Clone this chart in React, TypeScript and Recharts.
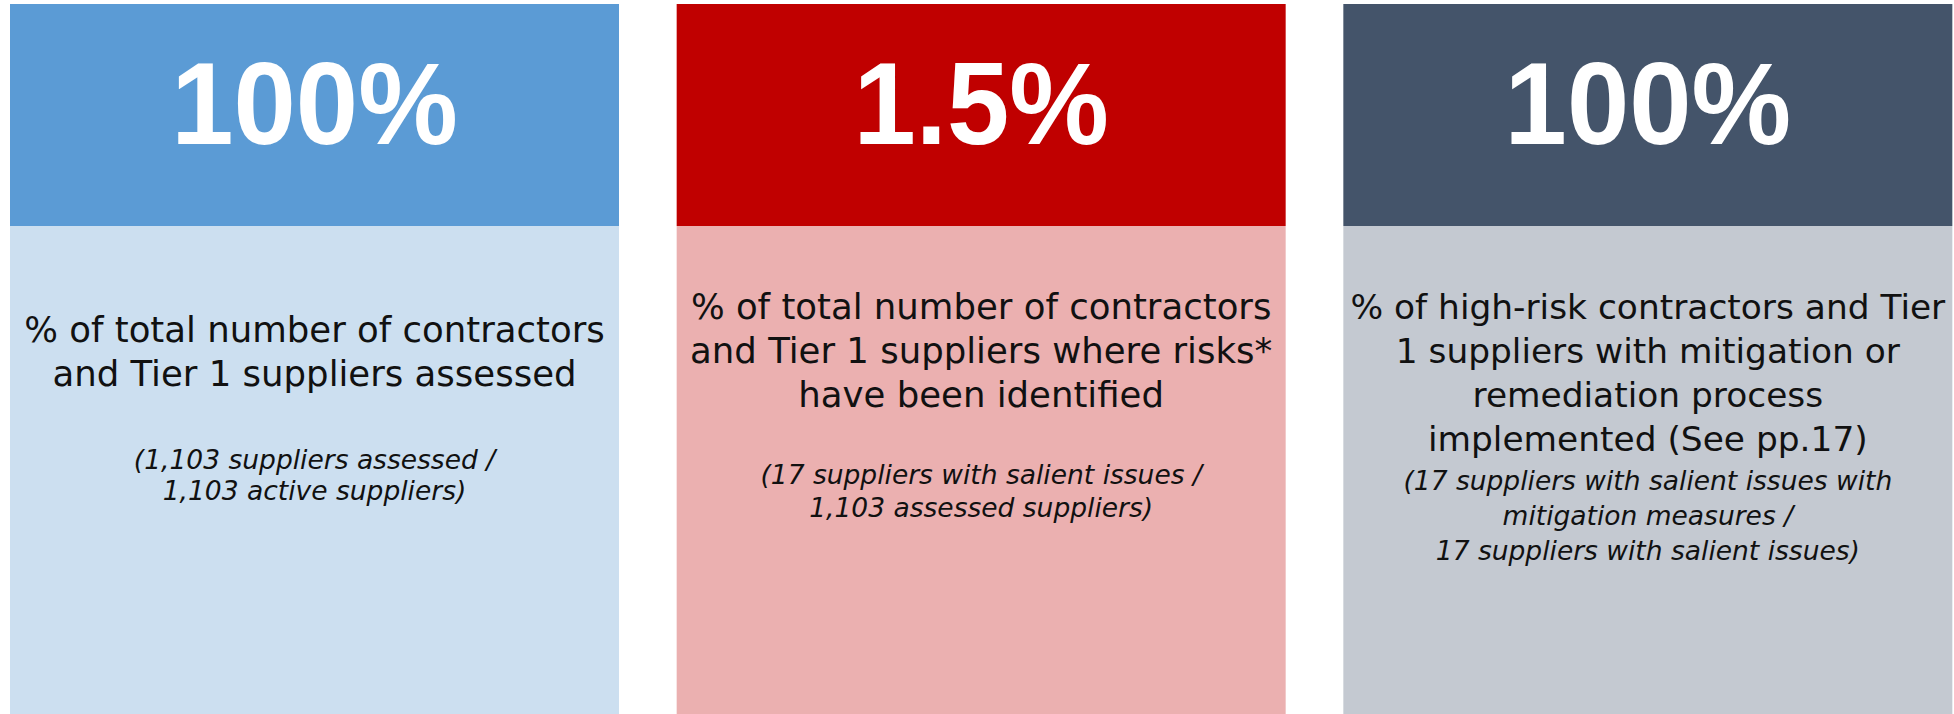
import { BarChart, Bar, XAxis, YAxis } from 'recharts';

// three KPI cards, one bar each
const cards = ['assessed', 'risks', 'mitigated'];
const values = [100, 1.5, 100];
const valueLabels = ['100%', '1.5%', '100%'];
const descriptions = [
  ['% of total number of contractors', 'and Tier 1 suppliers assessed'],
  ['% of total number of contractors', 'and Tier 1 suppliers where risks*', 'have been identified'],
  ['% of high-risk contractors and Tier', '1 suppliers with mitigation or', 'remediation process', 'implemented (See pp.17)'],
];
const notes = [
  ['(1,103 suppliers assessed /', '1,103 active suppliers)'],
  ['(17 suppliers with salient issues /', '1,103 assessed suppliers)'],
  ['(17 suppliers with salient issues with', 'mitigation measures /', '17 suppliers with salient issues)'],
];

const headerColors = ['#5B9BD5', '#C00000', '#44546A'];
const bodyColors = ['#CCDFF0', '#EBB0B0', '#C4C9D1'];

// text block placement inside each card (offset from card top)
const descTop = [338, 315, 315];
const descSize = [35.5, 35.5, 34.4];
const noteTop = [465, 480, 486];
const noteStep = [31, 33, 35];
const HEADER_H = 222;
const DESC_STEP = 44;

const data = cards.map((name, i) => ({
  name,
  value: values[i],
  label: valueLabels[i],
  lines: descriptions[i],
  notes: notes[i],
}));

// eslint-disable-next-line @typescript-eslint/no-explicit-any
function CardShape(props: any) {
  const { x, y, width, height, index, payload } = props;
  const cx = x + width / 2;
  return (
    <g>
      <rect x={x} y={y + HEADER_H} width={width} height={height - HEADER_H} fill={bodyColors[index]} />
      <rect x={x} y={y} width={width} height={HEADER_H} fill={headerColors[index]} />
      <text
        x={0}
        y={0}
        transform={`translate(${cx},${y + 140}) scale(1,1.05)`}
        textAnchor="middle"
        fill="#fff"
        fontFamily="'Liberation Sans', Arial, sans-serif"
        fontWeight={700}
        fontSize={112}
      >
        {payload.label}
      </text>
      {payload.lines.map((t: string, k: number) => (
        <text
          key={'d' + k}
          x={cx}
          y={y + descTop[index] + k * DESC_STEP}
          textAnchor="middle"
          fill="#111"
          fontFamily="'DejaVu Sans', sans-serif"
          fontSize={descSize[index]}
        >
          {t}
        </text>
      ))}
      {payload.notes.map((t: string, k: number) => (
        <text
          key={'n' + k}
          x={cx}
          y={y + noteTop[index] + k * noteStep[index]}
          textAnchor="middle"
          fill="#111"
          fontFamily="'DejaVu Sans', sans-serif"
          fontStyle="italic"
          fontSize={26.5}
        >
          {t}
        </text>
      ))}
    </g>
  );
}

export default function App() {
  return (
    <div style={{ position: 'absolute', left: 0, top: 0, background: '#fff' }}>
      <BarChart
        width={1954}
        height={714}
        data={data}
        margin={{ top: 4, right: -27, bottom: 0, left: -19 }}
      >
        <XAxis dataKey="name" hide />
        <YAxis hide domain={[0, 100]} />
        <Bar
          dataKey="value"
          barSize={609}
          background={<CardShape />}
          shape={() => null}
          isAnimationActive={false}
        />
      </BarChart>
    </div>
  );
}
